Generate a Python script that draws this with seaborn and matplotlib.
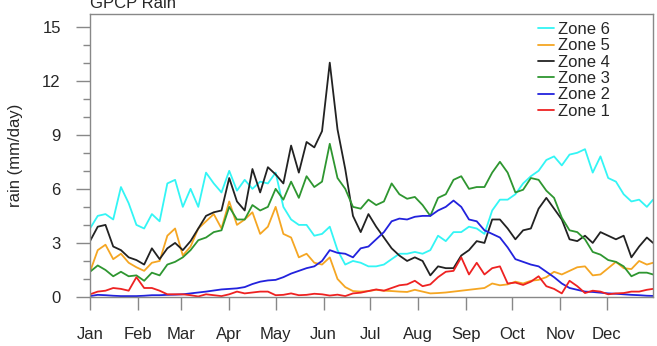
import numpy as np
import pandas as pd
import matplotlib
matplotlib.use('Agg')
import matplotlib.pyplot as plt
import seaborn as sns
from matplotlib.ticker import MultipleLocator

# ---- data (5-day samples, day 0 = 1 Jan) ----
days = list(range(0, 365, 5)) + [364]

zone6 = [3.8, 4.5, 4.6, 4.3, 6.1, 5.2, 4.0, 3.8, 4.6, 4.2, 6.3, 6.5, 5.0, 6.0, 5.0, 6.9,
         6.3, 5.8, 7.0, 5.9, 6.5, 6.0, 6.4, 6.3, 6.9, 5.0, 4.3, 4.0, 4.0, 3.4, 3.5, 3.9,
         2.6, 1.8, 2.0, 1.9, 1.7, 1.7, 1.8, 2.1, 2.4, 2.4, 2.5, 2.4, 2.6, 3.4, 3.1, 3.6,
         3.6, 3.9, 3.8, 3.5, 4.8, 5.4, 5.4, 5.7, 6.3, 6.7, 7.0, 7.6, 7.8, 7.3, 7.9, 8.0,
         8.2, 6.9, 7.8, 6.6, 6.4, 5.7, 5.3, 5.4, 5.0, 5.4]
zone5 = [1.4, 2.6, 2.9, 2.1, 2.4, 1.9, 1.65, 1.45, 1.9, 2.0, 3.4, 3.8, 2.3, 2.8, 3.8, 4.2,
         4.6, 3.8, 5.3, 4.0, 4.3, 4.7, 3.5, 3.9, 5.0, 3.5, 3.3, 2.2, 2.4, 1.9, 1.8, 2.2,
         1.0, 0.55, 0.33, 0.3, 0.33, 0.4, 0.35, 0.33, 0.3, 0.28, 0.4, 0.3, 0.2, 0.22, 0.25, 0.3,
         0.35, 0.4, 0.45, 0.5, 0.75, 0.65, 0.7, 0.85, 0.75, 0.9, 0.95, 1.1, 1.4, 1.25, 1.45, 1.65,
         1.7, 1.2, 1.25, 1.6, 1.95, 1.6, 1.55, 2.0, 1.8, 1.9]
zone4 = [3.1, 3.9, 4.0, 2.8, 2.6, 2.2, 2.05, 1.8, 2.7, 2.1, 2.7, 3.0, 2.6, 3.1, 3.8, 4.5,
         4.7, 4.8, 6.6, 5.3, 4.8, 7.1, 5.8, 7.2, 6.8, 6.3, 8.4, 6.9, 8.6, 8.3, 9.2, 13.0,
         9.3, 7.1, 4.5, 3.6, 4.6, 3.9, 3.3, 2.7, 2.3, 2.0, 2.2, 2.0, 1.2, 1.7, 1.6, 1.6,
         2.3, 2.6, 3.1, 3.0, 4.3, 4.3, 3.8, 3.2, 3.7, 3.8, 4.9, 5.5, 4.9, 4.3, 3.2, 3.1,
         3.4, 3.0, 3.6, 3.4, 3.2, 3.4, 2.2, 2.8, 3.3, 3.0]
zone3 = [1.4, 1.75, 1.5, 1.15, 1.4, 1.15, 1.2, 0.9, 1.35, 1.2, 1.8, 1.95, 2.2, 2.6, 3.15, 3.3,
         3.6, 3.7, 5.0, 4.3, 4.3, 5.1, 4.8, 5.0, 6.0, 5.4, 6.4, 5.5, 6.7, 6.1, 6.4, 8.5,
         6.6, 6.0, 5.0, 4.9, 5.4, 5.1, 5.3, 6.3, 5.7, 5.45, 5.55, 5.1, 4.5, 5.5, 5.7, 6.5,
         6.7, 6.0, 6.1, 6.1, 6.9, 7.5, 6.9, 5.8, 5.95, 6.6, 6.5, 5.9, 5.5, 4.4, 3.7, 3.6,
         3.2, 2.5, 2.35, 2.05, 1.95, 1.7, 1.15, 1.35, 1.35, 1.25]
zone2 = [0.05, 0.12, 0.1, 0.07, 0.05, 0.05, 0.05, 0.07, 0.1, 0.1, 0.12, 0.13, 0.15, 0.2, 0.25, 0.3,
         0.36, 0.42, 0.45, 0.48, 0.55, 0.72, 0.85, 0.92, 0.95, 1.1, 1.3, 1.45, 1.6, 1.7, 2.0, 2.6,
         2.45, 2.4, 2.2, 2.7, 2.8, 3.2, 3.6, 4.2, 4.35, 4.3, 4.45, 4.5, 4.5, 4.8, 5.0, 5.35,
         5.0, 4.3, 4.2, 3.7, 3.5, 3.3, 2.75, 2.1, 1.95, 1.8, 1.7, 1.4, 1.1, 0.75, 0.5, 0.4,
         0.3, 0.28, 0.24, 0.2, 0.18, 0.15, 0.12, 0.1, 0.07, 0.06]
zone1 = [0.15, 0.3, 0.35, 0.5, 0.45, 0.35, 1.1, 0.5, 0.5, 0.35, 0.15, 0.15, 0.15, 0.1, 0.03, 0.15,
         0.1, 0.05, 0.15, 0.3, 0.2, 0.25, 0.3, 0.3, 0.1, 0.12, 0.2, 0.1, 0.12, 0.18, 0.15, 0.08,
         0.13, 0.05, 0.2, 0.24, 0.33, 0.42, 0.35, 0.5, 0.65, 0.7, 0.9, 0.6, 0.7, 1.1, 1.4, 1.45,
         2.2, 1.25, 1.9, 1.25, 1.6, 1.7, 0.75, 0.8, 0.67, 0.85, 1.15, 0.6, 0.45, 0.2, 0.9, 0.6,
         0.22, 0.35, 0.3, 0.15, 0.2, 0.22, 0.3, 0.3, 0.4, 0.45]

zones = ["Zone 6", "Zone 5", "Zone 4", "Zone 3", "Zone 2", "Zone 1"]
colors = ["#33f5f5", "#f5a623", "#222222", "#2e9630", "#2222dd", "#ee2222"]

month_days = [0, 31, 59, 90, 120, 151, 181, 212, 243, 273, 304, 334]
month_labels = ["Jan", "Feb", "Mar", "Apr", "May", "Jun", "Jul", "Aug", "Sep", "Oct", "Nov", "Dec"]

# ---- long table for seaborn ----
series = [zone6, zone5, zone4, zone3, zone2, zone1]
df = pd.concat([pd.DataFrame({"day": days, "rain": vals, "zone": name})
                for name, vals in zip(zones, series)], ignore_index=True)

sns.set_style("white")
plt.rcParams['font.family'] = ['Liberation Sans', 'DejaVu Sans']
FS = 12

fig = plt.figure(figsize=(6.57, 3.46), dpi=100)
ax = fig.add_axes([0.137, 0.1416, 0.857, 0.818])

sns.lineplot(data=df, x="day", y="rain", hue="zone", hue_order=zones,
             palette=dict(zip(zones, colors)), linewidth=1.3, ax=ax)

ax.set_xlim(0, 364)
ax.set_ylim(0, 15.7)
ax.set_xticks(month_days)
ax.set_xticklabels(month_labels)
ax.set_yticks([0, 3, 6, 9, 12, 15])
ax.yaxis.set_minor_locator(MultipleLocator(1))
ax.set_xlabel("")
ax.set_ylabel("rain (mm/day)", fontsize=FS, labelpad=14)

grey = "#888888"
for s in ax.spines.values():
    s.set_color(grey)
    s.set_linewidth(1.0)
ax.tick_params(axis='x', which='major', direction='out', length=9.5, width=1,
               color=grey, pad=12, labelsize=FS, bottom=True, top=False)
ax.tick_params(axis='y', which='major', direction='out', length=10, width=1,
               color=grey, pad=11, labelsize=FS, left=True, right=False)
ax.tick_params(axis='y', which='minor', direction='out', length=5, width=1,
               color=grey, left=True, right=False)

ax.text(0.0, 1.022, "GPCP Rain", transform=ax.transAxes, ha='left', va='baseline',
        fontsize=FS)

leg = ax.legend(loc='upper right', bbox_to_anchor=(0.935, 0.995), frameon=False,
                handlelength=1.0, handletextpad=0.2, labelspacing=0.08,
                borderaxespad=0, fontsize=FS)
for line in leg.get_lines():
    line.set_linewidth(1.3)

plt.savefig("out.png", dpi=100)
plt.close()
